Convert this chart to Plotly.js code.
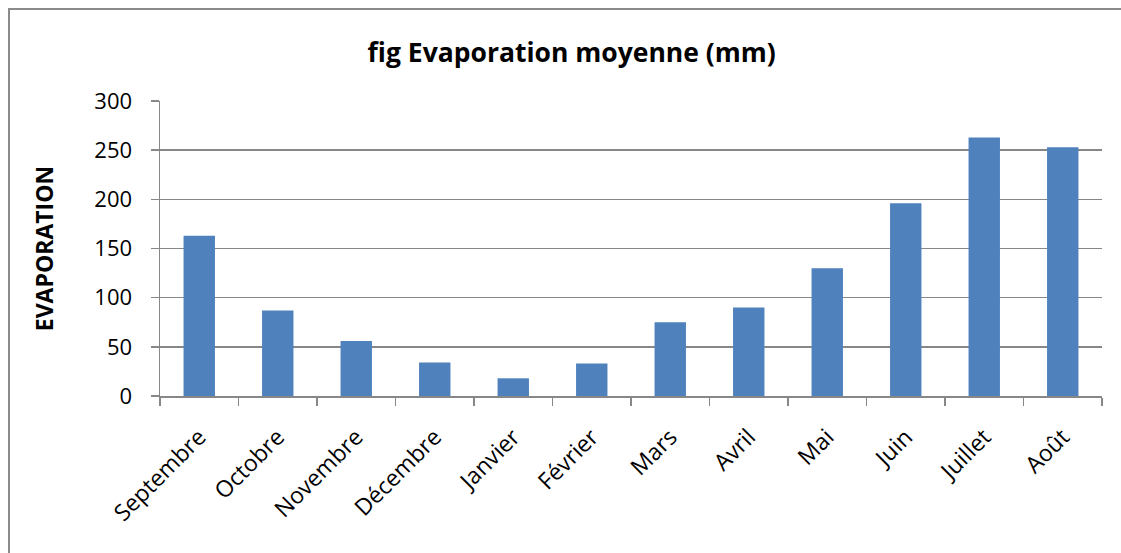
<!DOCTYPE html>
<html>
<head>
<meta charset="utf-8">
<script src="https://cdn.plot.ly/plotly-3.0.1.min.js"></script>
<style>
  html, body { margin: 0; padding: 0; background: #ffffff; }
  #chart { width: 1121px; height: 553px; }
  #frame {
    position: absolute; left: 8px; top: 8px; width: 1113px; height: 545px;
    border-left: 2px solid #8a8a8a; border-top: 2px solid #8a8a8a;
    pointer-events: none;
  }
</style>
</head>
<body>
<div id="chart"></div>
<div id="frame"></div>
<script>
// Monthly mean evaporation (mm), hydrological year September -> August
const months = ['Septembre', 'Octobre', 'Novembre', 'Décembre', 'Janvier', 'Février',
                'Mars', 'Avril', 'Mai', 'Juin', 'Juillet', 'Août'];
const evaporation = [163, 87, 56, 34, 18, 33, 75, 90, 130, 196, 263, 253];
const yTicks = [0, 50, 100, 150, 200, 250, 300];

const font = 'Open Sans, Noto Sans, DejaVu Sans, sans-serif';

const trace = {
  type: 'bar',
  x: months,
  y: evaporation,
  marker: { color: '#4f81bd', line: { width: 0 } },
  width: 0.4,
  hoverinfo: 'x+y'
};

const layout = {
  width: 1121,
  height: 553,
  margin: { l: 160, r: 19, t: 101, b: 157 },
  paper_bgcolor: '#ffffff',
  plot_bgcolor: '#ffffff',
  showlegend: false,
  font: { family: font, color: '#000000', size: 21 },
  title: {
    text: '<b>fig Evaporation moyenne (mm)</b>',
    font: { family: font, size: 26.5, color: '#000000' },
    x: 0.51, xref: 'container', xanchor: 'center',
    y: 0.905, yref: 'container', yanchor: 'middle'
  },
  xaxis: {
    type: 'category',
    tickson: 'boundaries',
    ticks: 'outside',
    ticklen: 8,
    tickwidth: 1.5,
    tickcolor: '#878787',
    tickangle: -45,
    ticklabelstandoff: 17,
    tickfont: { family: font, size: 23 },
    showline: true,
    linecolor: '#878787',
    linewidth: 1.5,
    showgrid: false,
    zeroline: false,
    fixedrange: true
  },
  yaxis: {
    range: [0, 300],
    tickvals: yTicks,
    ticktext: yTicks.map(String),
    ticks: 'outside',
    ticklen: 8,
    tickwidth: 1.5,
    tickcolor: '#878787',
    ticklabelstandoff: 14,
    tickfont: { family: font, size: 22 },
    showline: true,
    linecolor: '#878787',
    linewidth: 1.5,
    showgrid: true,
    gridcolor: '#878787',
    gridwidth: 1.5,
    zeroline: false,
    fixedrange: true,
    title: {
      text: '<b>EVAPORATION</b>',
      font: { family: font, size: 23, color: '#000000' },
      standoff: 34
    }
  }
};

Plotly.newPlot('chart', [trace], layout, { displayModeBar: false, staticPlot: true });
</script>
</body>
</html>
